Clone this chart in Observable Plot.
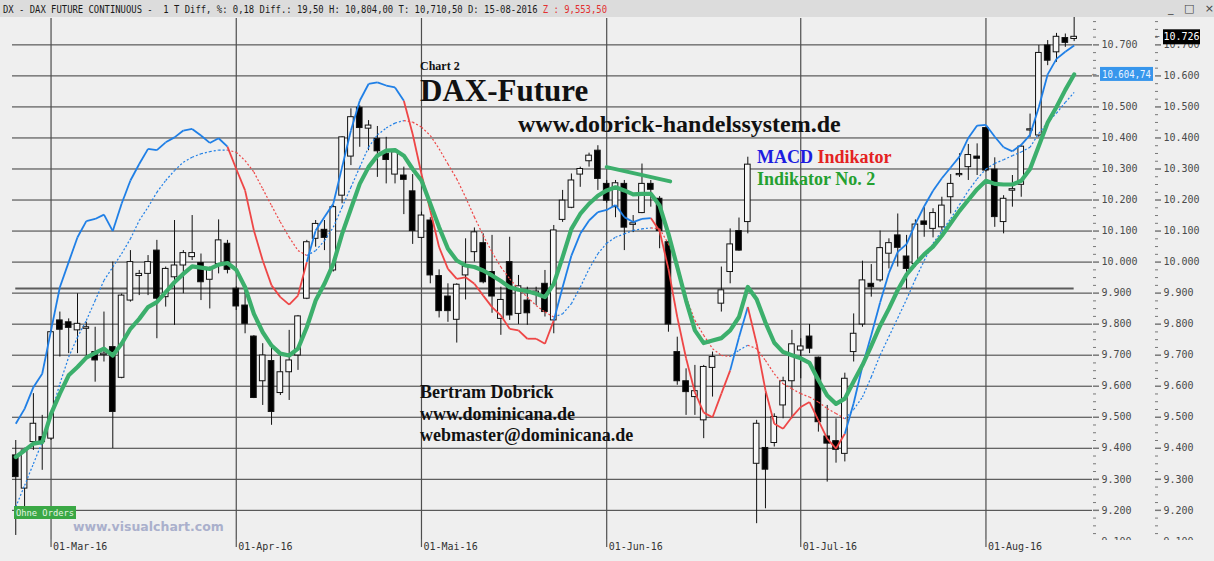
<!DOCTYPE html>
<html><head><meta charset="utf-8">
<script src="https://cdn.jsdelivr.net/npm/d3@7"></script>
<script src="https://cdn.jsdelivr.net/npm/@observablehq/plot@0.6"></script>
<style>
html,body{margin:0;padding:0;background:#efefef;}
#wrap{position:relative;width:1214px;height:561px;overflow:hidden;background:#efefef;}
</style></head>
<body><div id="wrap"></div>
<script>
// ---- Data (daily bars, 24-Feb-2016 .. 15-Aug-2016, trading-day index) ----
const open  = [9377,9270,9420,9436,9431,9812,9806,9780,9785,9710,9700,9726,9627,9876,9955,9962,10037,9887,9951,9989,10016,9997,9943,9994,10059,9914,9860,9760,9616,9681,9578,9645,9699,9882,10075,10104,9973,10214,10340,10497,10430,10397,10349,10282,10279,10228,10078,10134,9955,9889,9814,9957,10032,10061,9968,9817,10000,9833,9876,9900,9930,9812,10136,10175,10282,10325,10359,10252,10177,10252,10120,10158,10252,10204,10064,9710,9616,9565,9490,9659,9866,9968,10100,10129,9350,9401,9417,9538,9616,9715,9760,9692,9438,9423,9382,9710,9799,9930,9941,10027,10086,10018,9994,10131,10107,10112,10209,10280,10306,10340,10432,10298,10129,10230,10249,10424,10408,10698,10676,10722,10719];
const high  = [9425,9400,9576,9506,9780,9839,9817,9898,9806,9790,9839,10000,9897,10037,9973,10021,10070,9984,10134,10037,10150,10026,9984,10136,10070,9920,9920,9763,9737,9737,9704,9780,9828,10070,10134,10134,10182,10404,10494,10504,10456,10437,10402,10365,10306,10282,10161,10143,9975,9930,9930,10075,10110,10091,10086,9919,10080,9957,9919,9919,9973,10118,10231,10284,10306,10351,10375,10263,10263,10263,10150,10316,10263,10211,10080,9758,9656,9667,9667,9710,9984,10107,10142,10338,9490,9578,9511,9629,9780,9753,9799,9694,9538,9495,9642,9833,10003,9992,10100,10075,10155,10086,10136,10177,10172,10209,10282,10349,10379,10381,10434,10336,10214,10279,10375,10477,10698,10714,10737,10735,10804];
const low   = [9119,9210,9393,9329,9425,9694,9705,9705,9694,9613,9678,9399,9624,9871,9892,9892,9753,9855,9796,9898,10005,9876,9849,9962,9962,9844,9769,9560,9538,9474,9570,9554,9651,9879,10048,10037,9968,10188,10311,10370,10359,10273,10252,10252,10153,10057,10075,9930,9820,9806,9739,9878,10000,9930,9835,9764,9812,9799,9796,9860,9823,9769,10128,10172,10241,10306,10231,10190,10143,10037,10095,10156,10177,10043,9774,9603,9506,9506,9431,9565,9839,9930,10035,10091,9157,9205,9404,9495,9495,9624,9705,9452,9291,9352,9356,9678,9790,9887,9935,9978,9984,9914,9984,10080,10078,10102,10155,10273,10263,10279,10290,10112,10091,10177,10209,10402,10402,10633,10644,10692,10710.5];
const close = [9307,9393,9479,9420,9774,9782,9788,9801,9790,9683,9705,9517,9892,10000,9962,10000,9882,9978,9989,10029,10029,9935,9978,10070,9975,9857,9801,9562,9699,9517,9645,9683,9825,10064,10123,10078,10177,10402,10467,10432,10440,10357,10329,10354,10265,10100,10150,9957,9842,9842,9927,9986,10096,9935,9889,9878,9828,9922,9835,9905,9839,10102,10198,10263,10300,10343,10268,10198,10254,10111,10125,10252,10233,10100,9799,9616,9581,9584,9662,9694,9909,10057,10037,10314,9479,9331,9501,9616,9735,9728,9721,9484,9415,9395,9624,9769,9941,9919,10045,10061,10046,9978,10121,10120,10158,10182,10252,10284,10345,10333,10295,10145,10204,10235,10372,10428,10674,10649,10726,10706.5,10726];

// MACD line (solid) and its signal line (dotted), drawn on the price scale
const macd   = [9479,9527,9597,9640,9780,9919,10000,10080,10132,10139,10153,10100,10188,10263,10316,10365,10361,10386,10402,10424,10429,10408,10384,10399,10372,10300,10231,10102,10005,9925,9887,9863,9892,10000,10102,10145,10188,10306,10424,10520,10574,10579,10569,10563,10520,10413,10284,10166,10048,9978,9946,9951,9930,9892,9855,9828,9785,9780,9753,9753,9737,9812,9919,10021,10091,10134,10161,10168,10184,10145,10129,10139,10142,10100,9978,9823,9690,9580,9515,9500,9576,9651,9758,9855,9737,9587,9479,9463,9501,9533,9549,9490,9431,9399,9447,9545,9665,9765,9870,9965,10033,10058,10123,10180,10230,10270,10305,10340,10400,10440,10442,10404,10370,10357,10378,10410,10500,10605,10655,10678,10698];
const signal = [9211,9280,9350,9420,9511,9608,9694,9758,9812,9876,9941,9984,10027,10075,10134,10177,10225,10263,10295,10322,10338,10349,10356,10361,10361,10354,10327,10290,10236,10182,10129,10080,10037,10021,10037,10069,10112,10177,10241,10306,10370,10410,10432,10448,10456,10451,10435,10408,10365,10316,10268,10209,10145,10086,10032,9984,9946,9914,9887,9860,9839,9823,9833,9866,9919,9978,10027,10061,10080,10091,10102,10107,10110,10107,10059,9995,9887,9812,9764,9721,9699,9696,9716,9732,9721,9683,9640,9608,9592,9576,9565,9549,9528,9512,9495,9525,9565,9630,9700,9760,9820,9880,9945,10005,10060,10100,10140,10185,10230,10268,10300,10318,10330,10343,10355,10370,10415,10450,10480,10515,10547];
// bar ranges where MACD and signal are drawn red (otherwise blue)
const redRanges = [[24,33],[44,61],[72,81],[83,94]];
// "Indikator No. 2" (thick green)
const ind2 = [9372,9393,9415,9420,9511,9576,9635,9662,9692,9707,9721,9699,9737,9785,9817,9855,9871,9903,9935,9962,9986,9982,9978,9992,9997,9975,9919,9833,9774,9731,9705,9699,9721,9790,9876,9930,9994,10091,10172,10252,10306,10343,10359,10361,10343,10300,10263,10188,10112,10043,10005,9989,9984,9973,9957,9939,9919,9911,9906,9898,9887,9930,10016,10107,10155,10188,10214,10231,10241,10231,10218,10220,10220,10182,10091,9984,9876,9780,9739,9747,9755,9780,9823,9920,9880,9805,9740,9710,9700,9690,9675,9620,9570,9543,9560,9615,9668,9730,9795,9850,9910,9960,9994,10025,10050,10085,10125,10165,10200,10235,10262,10252,10250,10250,10262,10300,10375,10450,10500,10555,10604.74];
// green trend line annotation (bar index, price)
const trendX = [67, 74.2];
const trendY = [10306, 10260];
// horizontal support line
const supportLevel = 9915;
const supportFrom = 0, supportTo = 120;

// axes
const monthTicks  = [4, 25, 46, 67, 89, 110];
const monthLabels = ["01-Mar-16","01-Apr-16","01-Mai-16","01-Jun-16","01-Jul-16","01-Aug-16"];
const priceTicks  = [9100,9200,9300,9400,9500,9600,9700,9800,9900,10000,10100,10200,10300,10400,10500,10600,10700];
const gridTicks   = [9200,9300,9400,9500,9600,9700,9800,9900,10000,10100,10200,10300,10400,10500,10600,10700];
const minorTicks  = [9125,9150,9175,9225,9250,9275,9325,9350,9375,9425,9450,9475,9525,9550,9575,9625,9650,9675,9725,9750,9775,9825,9850,9875,9925,9950,9975,10025,10050,10075,10125,10150,10175,10225,10250,10275,10325,10350,10375,10425,10450,10475,10525,10550,10575,10625,10650,10675,10725,10750,10775];

const titleMain = "DX - DAX FUTURE CONTINUOUS -  1 T Diff, %: 0,18 Diff.: 19,50 H: 10,804,00 T: 10,710,50 D: 15-08-2016 ";
const titleZ = "Z : 9,553,50";
const lastClose = 10726, lastInd2 = 10604.74;

// ---- build ----
const n = close.length;
const bars = d3.range(n).map(i => ({i, o: open[i], h: high[i], l: low[i], c: close[i]}));
const isRed = i => redRanges.some(([a, b]) => i - 1 >= a && i <= b);
const segs = d3.range(1, n).map(i => ({a: i - 1, b: i, m0: macd[i-1], m1: macd[i], s0: signal[i-1], s1: signal[i], col: isRed(i) ? "#ee4646" : "#1f7fe6"}));
const greenPts = d3.range(n).map(i => ({i, v: ind2[i]}));
const trendPts = trendX.map((x, k) => ({x, y: trendY[k]}));
const fmt = d => d3.format(",")(d).replace(/,/g, ".");

const chart = Plot.plot({
  width: 1214, height: 561,
  marginTop: 18, marginBottom: 22, marginLeft: 12, marginRight: 122,
  style: {background: "transparent", fontFamily: "'DejaVu Sans Mono', monospace", fontSize: "10px", color: "#4a4a4a"},
  x: {domain: [-0.37, 122.08], axis: null},
  y: {domain: [9106, 10785], axis: null},
  marks: [
    Plot.ruleY(gridTicks, {stroke: "#3a3a3a", strokeWidth: 1}),
    Plot.ruleY([{y: supportLevel, x1: supportFrom, x2: supportTo}], {y: "y", x1: "x1", x2: "x2", stroke: "#5c5c5c", strokeWidth: 2}),
    Plot.axisX({ticks: monthTicks, tickSize: 8, tickFormat: () => "", line: true, stroke: "#555", strokeWidth: 1.2}),
    Plot.ruleX(monthTicks, {stroke: "#4e4e4e", strokeWidth: 1.2}),
    Plot.text(monthTicks, {x: d => d, text: (d, k) => monthLabels[k], frameAnchor: "bottom", dy: 10, dx: 2, textAnchor: "start", fill: "#333", fontSize: 10}),
    // candles
    Plot.ruleX(bars, {x: "i", y1: "l", y2: "h", stroke: "#111", strokeWidth: 1}),
    Plot.rect(bars, {x1: d => d.i - 0.32, x2: d => d.i + 0.32, y1: "o", y2: "c", fill: d => d.c >= d.o ? "#f8f8f8" : "#000", stroke: "#111", strokeWidth: 1}),
    // MACD signal (dotted) and MACD (solid)
    Plot.link(segs, {x1: "a", x2: "b", y1: "s0", y2: "s1", stroke: "col", strokeWidth: 1.2, strokeDasharray: "2,2"}),
    Plot.link(segs, {x1: "a", x2: "b", y1: "m0", y2: "m1", stroke: "col", strokeWidth: 1.8}),
    // Indikator No. 2
    Plot.line(greenPts, {x: "i", y: "v", stroke: "#3caf6c", strokeWidth: 4.2, strokeLinejoin: "round"}),
    Plot.line(trendPts, {x: "x", y: "y", stroke: "#3caf6c", strokeWidth: 4}),
    // right axes
    Plot.axisY({anchor: "right", ticks: priceTicks, tickFormat: fmt, tickSize: 6, tickPadding: 3, line: true, stroke: "#777", strokeWidth: 1.5}),
    Plot.axisY({anchor: "right", ticks: minorTicks, tickFormat: () => "", tickSize: 3, stroke: "#777"}),
    Plot.axisY({anchor: "right", ticks: priceTicks, tickFormat: fmt, tickSize: 6, tickPadding: 3, line: true, dx: 62, stroke: "#777", strokeWidth: 1.5}),
    Plot.axisY({anchor: "right", ticks: minorTicks, tickFormat: () => "", tickSize: 3, dx: 62, stroke: "#777"})
  ]
});

const wrap = document.getElementById("wrap");
wrap.appendChild(chart);
const svg = d3.select(chart);
const Y = chart.scale("y");
const extra = svg.append("g").attr("text-anchor", "start");

// bottom-right strip hides the lower half of the 9.100 labels
extra.append("rect").attr("x", 1093).attr("y", 540).attr("width", 121).attr("height", 21).attr("fill", "#efefef");

// title bar
extra.append("rect").attr("x", 0).attr("y", 0).attr("width", 1214).attr("height", 17).attr("fill", "#dcdcdc");
const tt = extra.append("text").attr("x", 3).attr("y", 12.5).attr("text-anchor", "start")
  .attr("font-family", "'DejaVu Sans Mono', monospace").attr("font-size", 10.5).attr("fill", "#1a1a1a")
  .attr("textLength", 604).attr("lengthAdjust", "spacingAndGlyphs");
tt.append("tspan").text(titleMain);
tt.append("tspan").attr("fill", "#e23030").text(titleZ);
extra.append("text").attr("x", 1168).attr("y", 12).attr("text-anchor", "start").attr("font-family", "DejaVu Sans").attr("font-size", 11).attr("fill", "#444").text("_   \u25A1   \u00D7");

// value tags on the right
const yInd = Y.apply(lastInd2), yClose = Y.apply(lastClose);
extra.append("text").attr("x", 1092).attr("y", yInd + 3).attr("font-size", 8).attr("fill", "#777").text("\u2190");
extra.append("rect").attr("x", 1100).attr("y", yInd - 7).attr("width", 53).attr("height", 14).attr("fill", "#3796ec");
extra.append("text").attr("x", 1102).attr("y", yInd + 4).attr("text-anchor", "start").attr("textLength", 49).attr("lengthAdjust", "spacingAndGlyphs").attr("font-family", "'DejaVu Sans Mono', monospace").attr("font-size", 10).attr("fill", "#eaf4ff").text(fmt(Math.floor(lastInd2)) + "," + String(Math.round((lastInd2 % 1) * 100)).padStart(2, "0"));
extra.append("text").attr("x", 1155).attr("y", yClose + 3).attr("font-size", 8).attr("fill", "#555").text("\u2190");
extra.append("rect").attr("x", 1163).attr("y", yClose - 7).attr("width", 37).attr("height", 15).attr("fill", "#000");
extra.append("text").attr("x", 1181.5).attr("y", yClose + 4).attr("text-anchor", "middle").attr("font-family", "'DejaVu Sans Mono', monospace").attr("font-size", 10).attr("fill", "#fff").text(fmt(lastClose));

// annotations
const serif = "'Liberation Serif', 'Times New Roman', serif";
function label(x, y, size, txt, fill = "#111") {
  return extra.append("text").attr("x", x).attr("y", y).attr("text-anchor", "start").attr("font-family", serif).attr("font-weight", "bold").attr("font-size", size).attr("fill", fill).text(txt);
}
label(420, 70, 12, "Chart 2");
label(420, 100.5, 31, "DAX-Future");
label(518, 131.5, 24, "www.dobrick-handelssystem.de");
const m = extra.append("text").attr("x", 757).attr("y", 163).attr("text-anchor", "start").attr("font-family", serif).attr("font-weight", "bold").attr("font-size", 18);
m.append("tspan").attr("fill", "#1c1ce0").text("MACD ");
m.append("tspan").attr("fill", "#e42222").text("Indikator");
label(757, 185, 18, "Indikator No. 2", "#24a030");
label(420, 398, 18, "Bertram Dobrick");
label(420, 420, 18, "www.dominicana.de");
label(420, 441, 18, "webmaster@dominicana.de");

// footer labels
extra.append("rect").attr("x", 14).attr("y", 506).attr("width", 62).attr("height", 13).attr("fill", "#3aa845");
extra.append("text").attr("x", 16).attr("y", 516).attr("text-anchor", "start").attr("textLength", 58).attr("lengthAdjust", "spacingAndGlyphs").attr("font-family", "'DejaVu Sans Mono', monospace").attr("font-size", 9.5).attr("fill", "#e6f4e6").text("Ohne Orders");
extra.append("text").attr("x", 73).attr("y", 531).attr("text-anchor", "start").attr("font-family", "'DejaVu Sans'").attr("font-weight", "bold").attr("font-size", 12.5).attr("fill", "#aab0cc").text("www.visualchart.com");
</script>
</body></html>
